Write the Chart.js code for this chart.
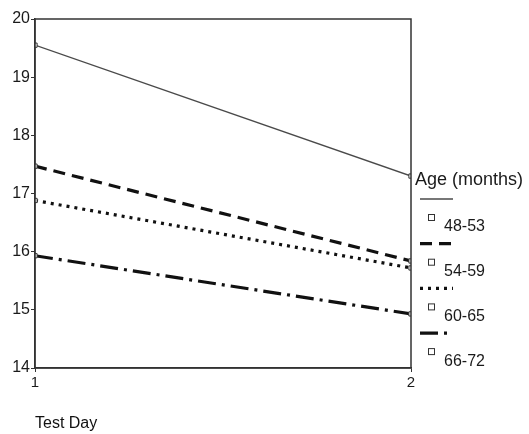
<!DOCTYPE html>
<html>
<head>
<meta charset="utf-8">
<script src="https://cdn.jsdelivr.net/npm/chart.js@4.4.1/dist/chart.umd.min.js"></script>
<style>
  html, body { margin: 0; padding: 0; background: #fff; }
  #wrap { width: 529px; height: 434px; position: relative; }
</style>
</head>
<body>
<div id="wrap"><canvas id="chart"></canvas></div>
<script>
var testDays = [1, 2];
var ageGroups = ["48-53", "54-59", "60-65", "66-72"];
var age48to53 = [19.55, 17.3];
var age54to59 = [17.47, 15.84];
var age60to65 = [16.88, 15.72];
var age66to72 = [15.93, 14.93];
var yTicks = [14, 15, 16, 17, 18, 19, 20];

function pts(vals) {
    return vals.map(function (v, i) { return { x: testDays[i], y: v }; });
}

var lineStyles = [
    { color: "#4a4a4a", width: 1.3, dash: [] },
    { color: "#111", width: 3.2, dash: [12, 7] },
    { color: "#111", width: 3.2, dash: [3, 5] },
    { color: "#111", width: 3.2, dash: [18, 6, 3, 6] }
];
var series = [age48to53, age54to59, age60to65, age66to72];

var datasets = series.map(function (s, i) {
    var st = lineStyles[i];
    return {
        label: ageGroups[i],
        data: pts(s),
        borderColor: st.color,
        borderWidth: st.width,
        borderDash: st.dash,
        pointStyle: "rect",
        pointRadius: 3,
        pointBorderWidth: 1,
        pointBorderColor: "#333",
        pointBackgroundColor: "#fff",
        fill: false,
        tension: 0
    };
});

// box around the plot + legend on the right
var framePlugin = {
    id: "frame",
    afterDraw: function (chart) {
        var ctx = chart.ctx, a = chart.chartArea;
        ctx.save();
        ctx.strokeStyle = "#333";
        ctx.lineWidth = 1.5;
        ctx.strokeRect(a.left, a.top, a.right - a.left, a.bottom - a.top);

        ctx.fillStyle = "#1a1a1a";
        ctx.textBaseline = "middle";
        ctx.font = "18px 'Liberation Sans', Arial";
        ctx.fillText("Age (months)", 415, 180);

        chart.data.datasets.forEach(function (ds, i) {
            var y = 199 + i * 44.7;
            ctx.beginPath();
            ctx.strokeStyle = ds.borderColor;
            ctx.lineWidth = ds.borderWidth;
            ctx.setLineDash(ds.borderDash);
            ctx.moveTo(420, y);
            ctx.lineTo(453, y);
            ctx.stroke();
            ctx.setLineDash([]);
            ctx.lineWidth = 1;
            ctx.strokeStyle = "#333";
            ctx.strokeRect(428.5, y + 15.5, 6, 6);
            ctx.fillStyle = "#1a1a1a";
            ctx.font = "16px 'Liberation Sans', Arial";
            ctx.fillText(ds.label, 444, y + 28);
        });
        ctx.restore();
    }
};

new Chart(document.getElementById("chart"), {
    type: "line",
    data: { datasets: datasets },
    plugins: [framePlugin],
    options: {
        responsive: true,
        maintainAspectRatio: false,
        animation: false,
        layout: { padding: { top: 19, right: 118, left: 0, bottom: 0 } },
        plugins: {
            legend: { display: false },
            tooltip: { enabled: false }
        },
        scales: {
            x: {
                type: "linear",
                min: 1,
                max: 2,
                afterBuildTicks: function (s) {
                    s.ticks = testDays.map(function (v) { return { value: v }; });
                },
                afterFit: function (s) { s.height = 66; },
                grid: { drawOnChartArea: false, tickLength: 4, color: "#333" },
                border: { color: "#333", width: 1.5 },
                ticks: {
                    color: "#1a1a1a",
                    padding: 2,
                    font: { family: "'Liberation Sans', Arial", size: 15 }
                },
                title: {
                    display: true,
                    text: "Test Day",
                    align: "start",
                    color: "#111",
                    padding: { top: 0, bottom: 1 },
                    font: { family: "'Liberation Sans', Arial", size: 16 }
                }
            },
            y: {
                min: 14,
                max: 20,
                afterBuildTicks: function (s) {
                    s.ticks = yTicks.map(function (v) { return { value: v }; });
                },
                afterFit: function (s) { s.width = 35; },
                grid: { drawOnChartArea: false, tickLength: 4, color: "#333" },
                border: { color: "#333", width: 1.5 },
                ticks: {
                    color: "#1a1a1a",
                    padding: 1,
                    font: { family: "'Liberation Sans', Arial", size: 16 }
                }
            }
        }
    }
});
</script>
</body>
</html>
